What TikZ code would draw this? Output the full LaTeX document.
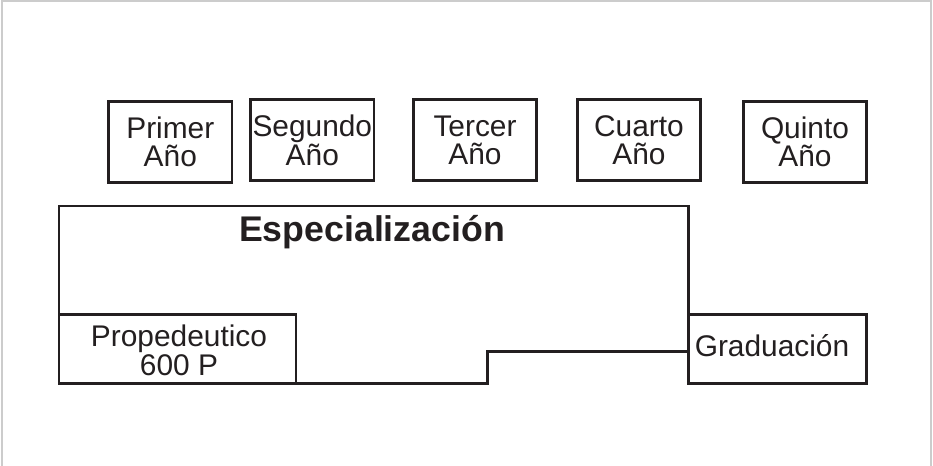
\documentclass[tikz,border=0pt]{standalone}
\usepackage{fontspec}
\setmainfont{Liberation Sans}
\usetikzlibrary{positioning}
\definecolor{ink}{HTML}{231F20}
\definecolor{framegray}{HTML}{CCCCCC}

\begin{document}
\begin{tikzpicture}[x=0.02cm,y=-0.02cm,
  year/.style={draw=ink, line width=1.6pt, text=ink, minimum width=2.47cm, minimum height=1.62cm,
               inner sep=0pt, align=center, font=\fontsize{17}{16.3}\selectfont},
  stage/.style={text=ink, align=center, inner sep=0pt, font=\fontsize{17}{16.3}\selectfont}]
  \useasboundingbox (0,0) rectangle (933,466);
  \draw [framegray, line width=0.8pt] (2,466) -- (2,1) -- (931,1) -- (931,466);
  % years
  \node [year] (primer)  at (170.3,141.9) {Primer\\Año};
  \node [year] (segundo) at (312.3,140.3) {Segundo\\Año};
  \node [year] (tercer)  at (475,140.3)   {Tercer\\Año};
  \node [year] (cuarto)  at (639,140.3)   {Cuarto\\Año};
  \node [year] (quinto)  at (805,141.9)   {Quinto\\Año};
  % stages
  \draw [ink, line width=1.6pt] (59,206) -- (688.3,206) -- (688.3,351.5) -- (487.3,351.5)
                                 -- (487.3,383.5) -- (59,383.5) -- cycle;
  \draw [ink, line width=1.6pt] (688.3,314.5) rectangle (866.2,383.5);
  \draw [ink, line width=1.6pt] (59,314.5) -| (296,383.5);
  \node [stage, anchor=base, font=\fontsize{20.3}{20}\selectfont\bfseries] (especial) at (372,241.7) {Especialización};
  \node [stage, anchor=base] (propedeutico) at (179,375) {Propedeutico\\600 P};
  \node [stage, anchor=base] (graduacion) at (772,356.7) {Graduación};
\end{tikzpicture}
\end{document}
